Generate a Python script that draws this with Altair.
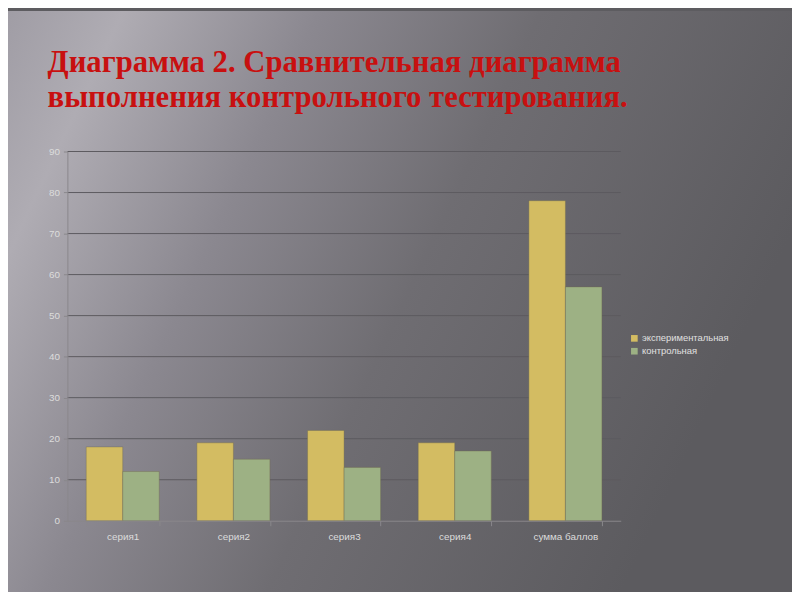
import altair as alt
import pandas as pd

categories = ["серия1", "серия2", "серия3", "серия4", "сумма баллов"]
series_names = ["экспериментальная", "контрольная"]
experimental = [18, 19, 22, 19, 78]
control = [12, 15, 13, 17, 57]
y_ticks = [0, 10, 20, 30, 40, 50, 60, 70, 80, 90]
colors = ["#d3bc62", "#9db184"]

rows = []
for c, e, k in zip(categories, experimental, control):
    rows.append({"cat": c, "group": series_names[0], "value": e})
    rows.append({"cat": c, "group": series_names[1], "value": k})
df = pd.DataFrame(rows)
grid_df = pd.DataFrame({"v": y_ticks[1:]})

bg = alt.Chart(pd.DataFrame({"a": [0]})).mark_rect(
    fill={
        "x1": 0, "y1": 0, "x2": 1, "y2": 0.35,
        "gradient": "linear",
        "stops": [
            {"offset": 0.0, "color": "#a09da5"},
            {"offset": 0.13, "color": "#afacb3"},
            {"offset": 0.35, "color": "#8b8890"},
            {"offset": 0.6, "color": "#6f6d72"},
            {"offset": 1.0, "color": "#5c5b5f"},
        ],
    }
).encode(
    x=alt.value(-60), x2=alt.value(740),
    y=alt.value(-142), y2=alt.value(450),
)

y_scale = alt.Scale(domain=[0, 90], nice=False)

grid = alt.Chart(grid_df).mark_rule(color="#5c5a5f", strokeWidth=1).encode(
    y=alt.Y("v:Q", scale=y_scale),
    x=alt.value(0), x2=alt.value(559),
)

bars = alt.Chart(df).mark_bar(stroke="#6f6a50", strokeWidth=0.4).encode(
    x=alt.X("cat:N", sort=categories, title=None,
            scale=alt.Scale(paddingInner=0.34, paddingOuter=0.17),
            axis=alt.Axis(labelAngle=0, tickBand="extent", domainColor="#8a888c",
                          tickColor="#8a888c", labelColor="#dcdcdc",
                          labelFont="Liberation Sans", labelFontSize=10,
                          labelPadding=6, grid=False, zindex=1)),
    xOffset=alt.XOffset("group:N", sort=series_names,
                        scale=alt.Scale(paddingInner=0, paddingOuter=0)),
    y=alt.Y("value:Q", title=None, scale=y_scale,
            axis=alt.Axis(values=y_ticks, grid=False,
                          domainColor="#8a888c", tickColor="#8a888c",
                          tickSize=4, labelColor="#dcdcdc",
                          labelFont="Liberation Sans", labelFontSize=10,
                          labelPadding=4, zindex=1)),
    color=alt.Color("group:N", sort=series_names,
                    scale=alt.Scale(domain=series_names, range=colors),
                    legend=alt.Legend(title=None, orient="none", legendX=568,
                                      legendY=184, symbolType="square",
                                      symbolSize=45, symbolStrokeWidth=0,
                                      labelColor="#e0e0e0",
                                      labelFont="Liberation Sans",
                                      labelFontSize=9.5, rowPadding=2,
                                      labelOffset=3)),
)

chart = alt.layer(bg, grid, bars).properties(
    width=559,
    height=373,
    title=alt.TitleParams(
        text=["Диаграмма 2. Сравнительная диаграмма",
              "выполнения контрольного тестирования."],
        font="Liberation Serif", fontSize=31, fontWeight="bold",
        color="#c81010", anchor="start", dx=-20, offset=0, dy=104,
        lineHeight=35, frame="group",
    ),
    autosize=alt.AutoSizeParams(type="none"),
    padding={"left": 60, "top": 142, "right": 173, "bottom": 69},
    background="#5d5c60",
).configure_view(stroke=None)

chart.save("out.html", embed_options={"renderer": "svg", "actions": False})
